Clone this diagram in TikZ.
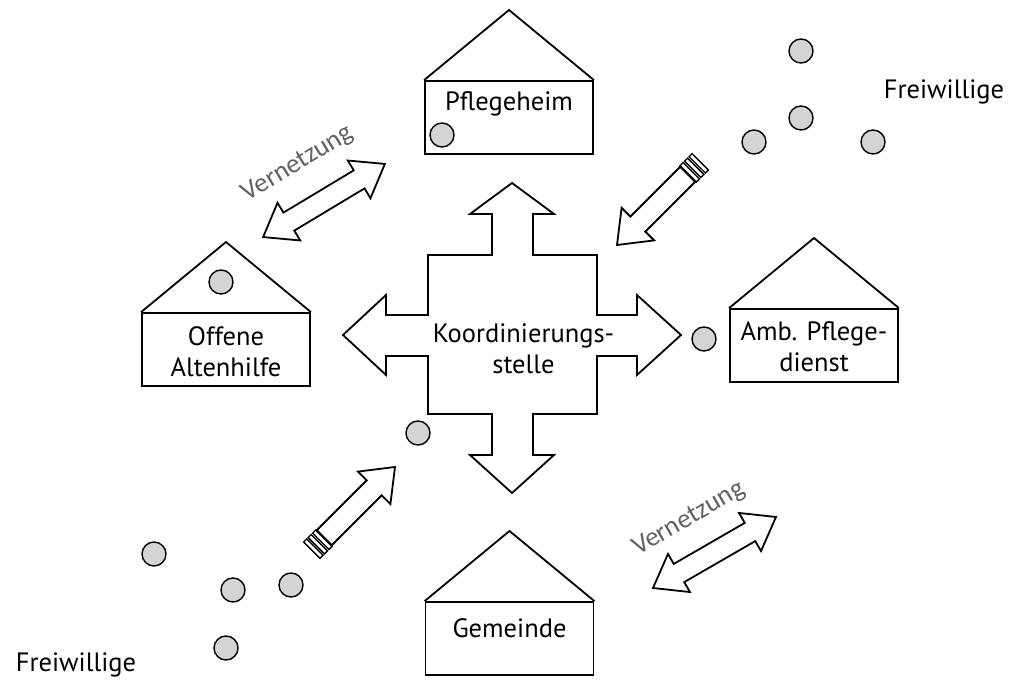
\documentclass[tikz,border=0pt]{standalone}
\usepackage{fontspec}
\setmainfont{PT Sans}
\newfontfamily\vfont{Carlito}
\begin{document}
\begin{tikzpicture}[x=1pt,y=-1pt,
  ol/.style={line width=1.8pt, line join=miter},
  vol/.style={circle, draw, line width=1.4pt, fill=black!17, minimum size=24pt, inner sep=0pt},
  housebox/.style={draw, line width=1.8pt, minimum width=168pt, minimum height=73pt, inner sep=0pt},
  lbl/.style={font=\fontsize{26.5}{31}\selectfont, align=center, inner sep=0pt},
  vern/.style={font=\vfont\fontsize{27}{27}\selectfont, text=black!62, inner sep=0pt},
  dblarrow/.pic={\draw[ol, fill=white] (-71,0) -- (-41,22) -- (-41,10.5) -- (41,10.5) -- (41,22) -- (71,0) -- (41,-22) -- (41,-10.5) -- (-41,-10.5) -- (-41,-22) -- cycle;},
  pencil/.pic={
    \draw[ol, fill=white] (0,0) -- (-29.5,23) -- (-29.5,10.6) -- (-100,10.6) -- (-100,-10.6) -- (-29.5,-10.6) -- (-29.5,-23) -- cycle;
    \draw[line width=1.4pt, fill=white] (-100.7,-11.5) rectangle (-105,11.5);
    \draw[line width=1.4pt, fill=white] (-107,-11.5) rectangle (-111.3,11.5);
    \draw[line width=1.4pt, fill=white] (-113.3,-11.5) rectangle (-117.6,11.5);
  }
]
\useasboundingbox (0,0) rectangle (1023,684);

% central cross
\draw[ol, fill=white] (512,183) -- (554,214) -- (533,214) -- (533,255) -- (597,255) -- (597,315) -- (637,315) -- (637,295) -- (681,335) -- (637,375) -- (637,356) -- (597,356) -- (597,414) -- (533,414) -- (533,455) -- (554,455) -- (512,493) -- (470,455) -- (492,455) -- (492,414) -- (428,414) -- (428,356) -- (386,356) -- (386,375) -- (343,335) -- (386,295) -- (386,315) -- (428,315) -- (428,255) -- (492,255) -- (492,214) -- (470,214) -- cycle;
\node[lbl] (koord) at (523.5,349) {Koordinierungs-\\stelle};

% houses
\node[housebox] (pflege) at (509,117.5) {};
\coordinate (pflegeR) at (509,10);
\draw[ol] (pflege.north west) -- (pflegeR) -- (pflege.north east);
\node[lbl] (pflegeT) at (509,104) {Pflegeheim};

\node[housebox] (offen) at (226,349.5) {};
\coordinate (offenR) at (226,242);
\draw[ol] (offen.north west) -- (offenR) -- (offen.north east);
\node[lbl] (offenT) at (226,352) {Offene\\Altenhilfe};

\node[housebox] (amb) at (814,345.5) {};
\coordinate (ambR) at (814,238);
\draw[ol] (amb.north west) -- (ambR) -- (amb.north east);
\node[lbl] (ambT) at (814,347) {Amb. Pflege-\\dienst};

\node[housebox] (gem) at (509.5,638.5) {};
\coordinate (gemR) at (509.5,531);
\draw[ol] (gem.north west) -- (gemR) -- (gem.north east);
\node[lbl] (gemT) at (509.5,628) {Gemeinde};

% Vernetzung
\pic[shift={(324,200.5)}, rotate=31] {dblarrow};
\node[vern, rotate=31] (v1) at (298,164) {Vernetzung};
\pic[shift={(714.5,552.5)}, rotate=30] {dblarrow};
\node[vern, rotate=30] (v2) at (689,519) {Vernetzung};

% pencils
\pic[shift={(617,245)}, rotate=225] {pencil};
\pic[shift={(395,467)}, rotate=45] {pencil};

% volunteers
\node[vol] (c1) at (442,135) {};
\node[vol] (c2) at (221,282) {};
\node[vol] (c3) at (704,339) {};
\node[vol] (c4) at (418,433) {};
\node[vol] (c5) at (801,51) {};
\node[vol] (c6) at (801,118) {};
\node[vol] (c7) at (754,142) {};
\node[vol] (c8) at (873,142) {};
\node[vol] (c9) at (154,554) {};
\node[vol] (c10) at (233,590) {};
\node[vol] (c11) at (291,585) {};
\node[vol] (c12) at (226,648) {};

\node[lbl] (fw1) at (944,92) {Freiwillige};
\node[lbl] (fw2) at (76,665) {Freiwillige};
\end{tikzpicture}
\end{document}
